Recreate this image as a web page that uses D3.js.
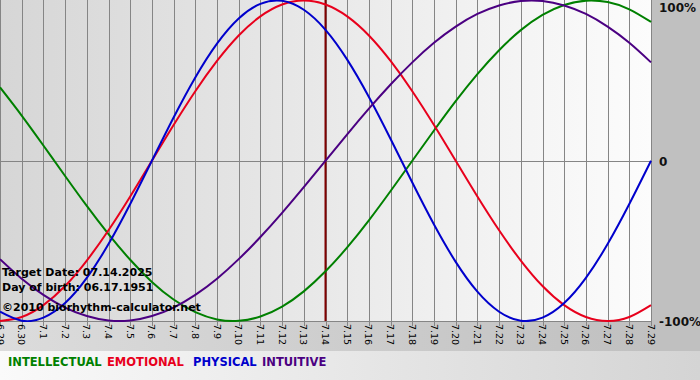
<!DOCTYPE html>
<html>
<head>
<meta charset="utf-8">
<script src="https://cdn.jsdelivr.net/npm/d3@7"></script>
<style>
  body { margin: 0; background: #c0c0c0; }
  svg { display: block; font-family: Verdana, "DejaVu Sans", sans-serif; }
</style>
</head>
<body>
<svg id="chart" width="700" height="380"></svg>
<script>
// Day labels along the bottom (6.29 .. 7.29)
const days = ["6.29", "6.30", "7.1", "7.2", "7.3", "7.4", "7.5", "7.6", "7.7", "7.8", "7.9", "7.10",
    "7.11", "7.12", "7.13", "7.14", "7.15", "7.16", "7.17", "7.18", "7.19", "7.20", "7.21", "7.22",
    "7.23", "7.24", "7.25", "7.26", "7.27", "7.28", "7.29"];

// Values per day (-1 .. 1)
const intellectual = [0.458, 0.282, 0.095, -0.095, -0.282, -0.458, -0.618, -0.756, -0.866, -0.945,
    -0.990, -0.999, -0.972, -0.910, -0.815, -0.690, -0.541, -0.372, -0.189, 0.000, 0.189, 0.372,
    0.541, 0.690, 0.815, 0.910, 0.972, 0.999, 0.990, 0.945, 0.866];
const emotional = [-1.000, -0.975, -0.901, -0.782, -0.623, -0.434, -0.223, 0.000, 0.223, 0.434,
    0.623, 0.782, 0.901, 0.975, 1.000, 0.975, 0.901, 0.782, 0.623, 0.434, 0.223, 0.000, -0.223,
    -0.434, -0.623, -0.782, -0.901, -0.975, -1.000, -0.975, -0.901];
const physical = [-0.942, -0.998, -0.979, -0.888, -0.731, -0.520, -0.270, 0.000, 0.270, 0.520,
    0.731, 0.888, 0.979, 0.998, 0.942, 0.817, 0.631, 0.398, 0.136, -0.136, -0.398, -0.631, -0.817,
    -0.942, -0.998, -0.979, -0.888, -0.731, -0.520, -0.270, 0.000];
const intuitive = [-0.614, -0.736, -0.837, -0.916, -0.969, -0.997, -0.997, -0.969, -0.916, -0.837,
    -0.736, -0.614, -0.476, -0.325, -0.165, 0.000, 0.165, 0.325, 0.476, 0.614, 0.736, 0.837, 0.916,
    0.969, 0.997, 0.997, 0.969, 0.916, 0.837, 0.736, 0.614];

const targetDay = "7.14";
const yTicks = [1, 0, -1];
const yTickLabels = ["100%", "0", "-100%"];
const infoLines = ["Target Date: 07.14.2025", "Day of birth: 06.17.1951", "\u00a92010 biorhythm-calculator.net"];

const series = [
    { name: "INTELLECTUAL", values: intellectual, color: "#008000", lx: 8 },
    { name: "EMOTIONAL", values: emotional, color: "#e8001c", lx: 107 },
    { name: "PHYSICAL", values: physical, color: "#0000cc", lx: 193 },
    { name: "INTUITIVE", values: intuitive, color: "#4b0082", lx: 262 }
];

const W = 700, H = 380;
const plot = { left: 0, top: 0, right: 651, bottom: 321 };

const svg = d3.select('#chart');
const defs = svg.append('defs');

// background gradients
const gPlot = defs.append('linearGradient').attr('id', 'gPlot');
gPlot.append('stop').attr('offset', '0%').attr('stop-color', '#d6d6d6');
gPlot.append('stop').attr('offset', '100%').attr('stop-color', '#fcfcfc');
const gStrip = defs.append('linearGradient').attr('id', 'gStrip');
gStrip.append('stop').attr('offset', '0%').attr('stop-color', '#dcdcdc');
gStrip.append('stop').attr('offset', '100%').attr('stop-color', '#c0c0c0');
const gLegend = defs.append('linearGradient').attr('id', 'gLegend');
gLegend.append('stop').attr('offset', '0%').attr('stop-color', '#fafafa');
gLegend.append('stop').attr('offset', '100%').attr('stop-color', '#d4d4d4');

svg.append('rect').attr('width', W).attr('height', H).attr('fill', '#c0c0c0');
svg.append('rect').attr('x', 0).attr('y', plot.bottom).attr('width', plot.right + 1).attr('height', 30)
    .attr('fill', 'url(#gStrip)');
svg.append('rect').attr('x', 0).attr('y', 351).attr('width', W).attr('height', H - 351)
    .attr('fill', 'url(#gLegend)');
svg.append('rect').attr('x', plot.left).attr('y', plot.top)
    .attr('width', plot.right - plot.left).attr('height', plot.bottom - plot.top)
    .attr('fill', 'url(#gPlot)');

const x = d3.scalePoint().domain(days).range([plot.left, plot.right]);
const y = d3.scaleLinear().domain([-1, 1]).range([plot.bottom, plot.top + 0.5]);

// vertical grid + ticks
svg.append('g')
    .selectAll('line')
    .data(days)
    .join('line')
    .attr('x1', d => Math.round(x(d)) + 0.5)
    .attr('x2', d => Math.round(x(d)) + 0.5)
    .attr('y1', plot.top)
    .attr('y2', plot.bottom + 5)
    .attr('stroke', '#858585')
    .attr('stroke-width', 1);

// horizontal zero line
svg.append('line')
    .attr('x1', plot.left).attr('x2', plot.right + 1)
    .attr('y1', Math.round(y(0)) + 0.5).attr('y2', Math.round(y(0)) + 0.5)
    .attr('stroke', '#858585');

// bottom axis line
svg.append('line')
    .attr('x1', plot.left).attr('x2', plot.right + 1)
    .attr('y1', plot.bottom + 0.5).attr('y2', plot.bottom + 0.5)
    .attr('stroke', '#858585');

// day labels, rotated
svg.append('g')
    .selectAll('text')
    .data(days)
    .join('text')
    .attr('transform', d => 'translate(' + (x(d) - 3.5) + ',' + (plot.bottom + 3) + ') rotate(90)')
    .attr('font-size', 9.5)
    .attr('fill', '#000')
    .text(d => d);

// curves
const line = d3.line()
    .x((d, i) => x(days[i]))
    .y(d => y(d))
    .curve(d3.curveNatural);

const clip = defs.append('clipPath').attr('id', 'clipPlot');
clip.append('rect').attr('x', plot.left).attr('y', plot.top - 2)
    .attr('width', plot.right - plot.left + 1).attr('height', plot.bottom - plot.top + 3);

// target day marker
svg.append('line')
    .attr('x1', x(targetDay)).attr('x2', x(targetDay))
    .attr('y1', plot.top).attr('y2', plot.bottom)
    .attr('stroke', '#800000')
    .attr('stroke-width', 2);

svg.append('g')
    .attr('clip-path', 'url(#clipPlot)')
    .selectAll('path')
    .data(series)
    .join('path')
    .attr('d', s => line(s.values))
    .attr('fill', 'none')
    .attr('stroke', s => s.color)
    .attr('stroke-width', 2);

// right labels
svg.append('g')
    .selectAll('text')
    .data(yTicks)
    .join('text')
    .attr('x', 659)
    .attr('y', (d, i) => i === 0 ? y(d) + 11 : y(d) + 5)
    .attr('font-size', 12)
    .attr('font-weight', 'bold')
    .attr('fill', '#111')
    .text((d, i) => yTickLabels[i]);

// info text
svg.append('g')
    .selectAll('text')
    .data(infoLines)
    .join('text')
    .attr('x', 2)
    .attr('y', (d, i) => [276, 291, 311][i])
    .attr('font-size', 11)
    .attr('font-weight', 'bold')
    .attr('fill', '#000')
    .text(d => d);

// legend
svg.append('g')
    .selectAll('text')
    .data(series)
    .join('text')
    .attr('x', s => s.lx)
    .attr('y', 366)
    .attr('font-size', 11.5)
    .attr('font-weight', 'bold')
    .attr('fill', s => s.color)
    .text(s => s.name);
</script>
</body>
</html>
